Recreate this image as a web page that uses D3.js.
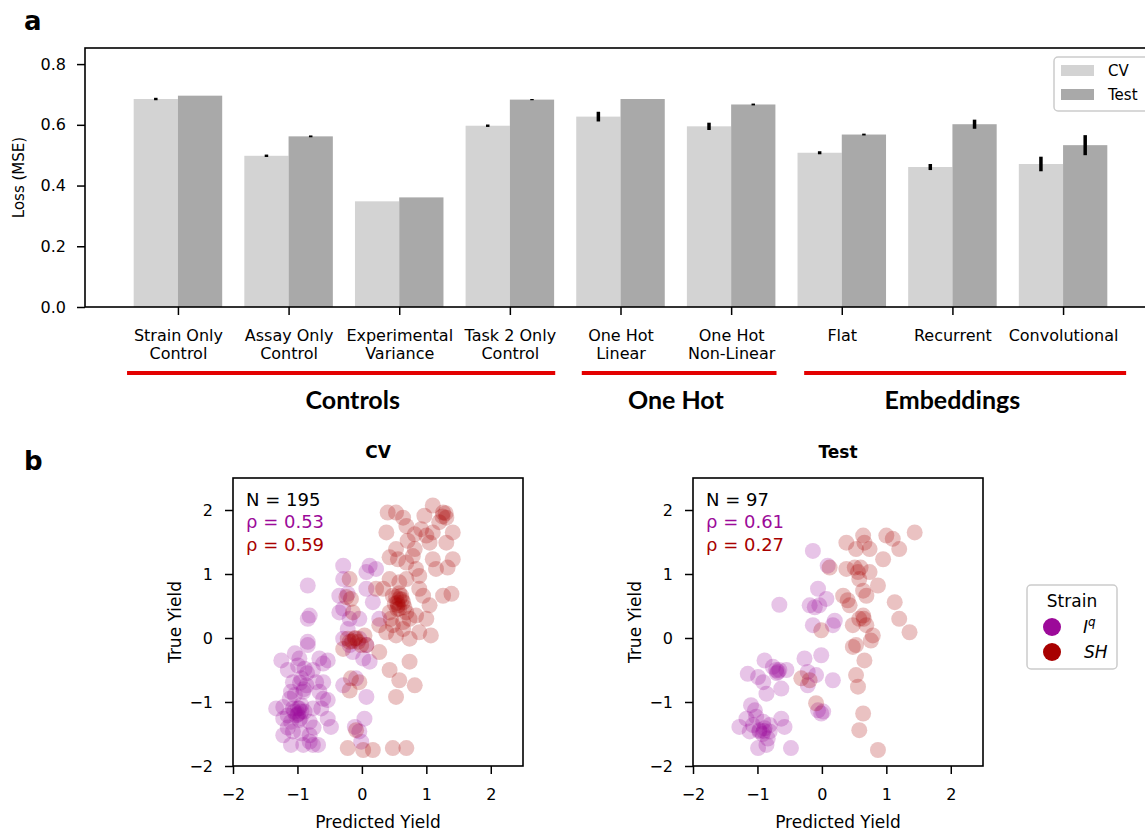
<!DOCTYPE html>
<html>
<head>
<meta charset="utf-8">
<script src="https://cdn.jsdelivr.net/npm/d3@7"></script>
<style>
  body { margin: 0; background: #fff; }
  svg text { font-family: "DejaVu Sans", sans-serif; }
</style>
</head>
<body>
<svg id="fig" width="1145" height="832"></svg>
<script>
/* DATA */
// Panel a: model categories and losses
const methods = ["Strain Only\nControl", "Assay Only\nControl", "Experimental\nVariance", "Task 2 Only\nControl",
    "One Hot\nLinear", "One Hot\nNon-Linear", "Flat", "Recurrent", "Convolutional"];
const cvLoss = [0.685, 0.498, 0.348, 0.597, 0.627, 0.595, 0.508, 0.461, 0.471];
const testLoss = [0.696, 0.562, 0.361, 0.683, 0.685, 0.667, 0.568, 0.602, 0.533];
const cvErr = [0.004, 0.004, 0, 0.004, 0.016, 0.012, 0.005, 0.01, 0.024];
const testErr = [0, 0.003, 0, 0.002, 0, 0.003, 0.003, 0.015, 0.033];
const lossTicks = [0, 0.2, 0.4, 0.6, 0.8];
// Groups of categories (extent in category units)
const groupNames = ["Controls", "One Hot", "Embeddings"];
const groupFrom = [-0.46, 3.65, 5.66];
const groupTo = [3.41, 5.41, 8.57];
const groupLabelAt = [1.58, 4.5, 7.0];

// Panel b: predicted vs true yield [predicted, true]
const cvIq = [[-1.25,-0.35],[-1.04,-0.24],[-0.84,-0.11],[-0.97,-0.32],[-0.66,-0.32],[-0.53,-0.35],[-1.15,-0.50],
    [-0.99,-0.43],[-0.76,-0.50],[-0.89,-0.48],[-1.07,-0.69],[-0.94,-0.63],[-0.71,-0.69],[-0.60,-0.69],[-1.10,-0.84],
    [-0.91,-0.84],[-0.66,-0.84],[-0.53,-0.97],[-1.22,-1.08],[-1.07,-1.10],[-0.97,-1.10],[-0.89,-1.15],[-1.15,-1.21],
    [-0.99,-1.18],[-0.76,-1.10],[-0.63,-1.10],[-1.10,-1.31],[-0.97,-1.28],[-0.81,-1.31],[-0.53,-1.26],[-0.48,-1.39],
    [-1.22,-1.52],[-1.07,-1.46],[-0.94,-1.49],[-0.81,-1.52],[-0.68,-1.67],[-1.10,-1.67],[-0.91,-1.67],[-0.81,-1.62],
    [-1.02,-1.21],[-0.94,-1.05],[-0.99,-1.10],[-0.94,-1.15],[-1.04,-0.89],[-0.86,-0.74],[-1.33,-1.10],[-1.22,-1.26],
    [-0.76,-1.67],[-0.60,-0.95],[-0.84,0.82],[-0.84,0.30],[-0.81,0.35],[-0.84,-0.06],
    [-1.00,-1.20],[-0.95,-1.25],[-1.05,-1.15],[-0.90,-0.80],[-0.85,-0.55],[-1.12,-0.95],[-0.75,-1.40],[-1.15,-1.40],
    [-0.60,-0.40],[-0.96,-0.70],
    [-0.29,1.13],[0.12,1.13],[0.22,1.08],[0.07,1.03],[-0.29,0.92],[-0.35,0.66],[-0.22,0.69],[-0.29,0.46],[0.07,0.77],
    [0.17,0.56],[0.27,0.30],[-0.19,0.30],[-0.04,0.30],[-0.22,0.14],[-0.29,-0.01],[-0.04,-0.01],[0.07,-0.11],
    [0.02,-0.32],[-0.14,-0.22],[0.12,-0.37],[-0.29,-0.74],[-0.09,-0.63],[0.07,-0.92],[0.04,-1.26],[-0.11,-1.39],
    [-0.04,-1.46],[-0.01,-1.62],[-0.19,-0.11],[-0.35,0.40]];
const cvSH = [[0.40,1.96],[0.53,1.96],[0.64,1.88],[1.10,2.07],[1.26,1.96],[1.31,1.88],[1.20,1.81],[0.97,1.91],
    [1.41,1.65],[1.10,1.65],[0.38,1.65],[0.69,1.75],[0.82,1.62],[1.00,1.60],[0.92,1.70],[1.05,1.49],[1.31,1.49],
    [0.71,1.52],[0.82,1.39],[0.53,1.39],[0.43,1.26],[0.56,1.23],[0.69,1.18],[0.84,1.08],[1.10,1.23],[1.15,1.08],
    [1.41,1.23],[1.33,1.10],[0.89,0.97],[1.26,0.66],[1.39,0.69],[0.79,1.28],[0.43,0.92],[0.58,0.87],[0.69,0.92],
    [0.33,0.77],[0.48,0.66],[0.58,0.61],[0.64,0.56],[0.56,0.51],[0.69,0.40],[0.43,0.40],[0.89,0.77],[0.95,0.66],
    [1.05,0.51],[0.84,0.35],[1.00,0.30],[0.64,0.25],[0.48,0.20],[0.38,0.09],[0.53,0.04],[0.74,-0.01],[0.89,0.09],
    [1.07,0.04],[0.27,0.20],[0.22,0.77],[0.53,0.64],[0.61,0.66],[0.51,0.53],[0.66,0.48],[0.58,0.46],[0.45,0.30],
    [0.64,0.14],[0.74,0.30],[-0.19,0.92],[-0.24,0.64],[-0.17,0.61],[-0.14,0.40],[-0.22,-0.01],[-0.11,-0.01],
    [-0.06,-0.06],[0.04,0.04],[0.07,-0.11],[0.27,-0.22],[-0.29,-0.17],[-0.19,-0.06],[-0.01,-0.11],[0.43,-0.50],
    [0.74,-0.37],[0.58,-0.66],[0.82,-0.74],[0.53,-0.92],[-0.17,-0.63],[-0.04,-0.69],[-0.19,-0.82],[-0.09,-1.44],
    [-0.22,-1.72],[0.02,-1.75],[0.17,-1.75],[0.48,-1.72],[0.69,-1.72],
    [0.55,0.55],[0.62,0.60],[0.58,0.70],[1.25,1.90],[1.30,1.95],[-0.15,-0.05],[-0.10,0.00],[0.55,0.45]];
const testIq = [[-0.14,1.36],[0.09,1.13],[-0.06,0.77],[0.07,0.61],[-0.19,0.51],[-0.11,0.48],[-0.04,0.51],[-0.66,0.52],
    [-0.14,0.20],[0.17,0.20],[0.20,0.27],[-0.27,-0.32],[-0.01,-0.27],[-0.22,-0.53],[-0.09,-0.58],[0.17,-0.66],
    [-0.22,-0.74],[-0.06,-1.13],[0.02,-1.15],[-0.01,-1.18],[-0.89,-0.35],[-0.76,-0.45],[-0.66,-0.50],[-0.68,-0.53],
    [-0.55,-0.50],[-1.15,-0.56],[-0.99,-0.61],[-0.91,-0.69],[-0.63,-0.79],[-0.86,-0.87],[-1.10,-1.05],[-1.04,-1.13],
    [-1.17,-1.26],[-1.02,-1.23],[-1.07,-1.36],[-0.91,-1.31],[-0.81,-1.36],[-0.63,-1.26],[-0.58,-1.39],[-1.28,-1.39],
    [-1.12,-1.46],[-0.97,-1.46],[-0.81,-1.46],[-0.84,-1.57],[-0.99,-1.72],[-0.86,-1.67],[-0.48,-1.72],[-0.97,-1.44],
    [-0.71,-0.50],[-0.89,-1.41],[-0.90,-1.45],[-0.92,-1.50],[-0.70,-0.55]];
const testSH = [[0.38,1.49],[0.64,1.60],[0.66,1.49],[1.00,1.60],[1.10,1.55],[1.20,1.39],[1.44,1.65],[0.53,1.39],
    [0.74,1.39],[0.95,1.23],[0.12,1.10],[0.38,1.08],[0.51,1.10],[0.56,1.03],[0.74,1.03],[0.58,0.92],[0.87,0.82],
    [0.64,0.74],[0.33,0.66],[0.40,0.59],[0.43,0.51],[0.69,0.66],[1.13,0.56],[1.20,0.30],[1.36,0.09],[0.64,0.35],
    [0.69,0.20],[0.48,0.20],[0.58,0.30],[0.79,0.04],[0.76,-0.04],[0.48,-0.14],[0.66,-0.35],[0.53,-0.58],
    [0.56,-0.76],[-0.01,0.12],[-0.32,-0.63],[-0.19,-0.66],[-0.09,-1.02],[0.64,-1.18],[0.58,-1.44],[0.87,-1.75],
    [0.53,-0.11],[0.60,1.10],[0.65,0.30]];
const yieldTicks = [-2, -1, 0, 1, 2];
const panelsB = [
    {title: "CV", n: 195, rhoIq: 0.53, rhoSH: 0.59, iq: cvIq, sh: cvSH},
    {title: "Test", n: 97, rhoIq: 0.61, rhoSH: 0.27, iq: testIq, sh: testSH}
];

/* STYLE */
const barCV = "#d3d3d3";
const barTest = "#a9a9a9";
const purple = "#9c0a99";
const red = "#a80000";
const groupRed = "#e30000";
const svg = d3.select("#fig");

// Common axis styling
function styleAxis(g, fs) {
    g.attr("font-family", "DejaVu Sans").attr("font-size", fs);
    g.select(".domain").remove();
    g.selectAll(".tick line").attr("stroke", "#000").attr("stroke-width", 1.5);
    g.selectAll(".tick text").attr("fill", "#000");
}

/* PANEL A */
const xa = d3.scaleLinear().domain([-0.84, methods.length - 1 + 0.84]).range([85, 1156]);
const ya = d3.scaleLinear().domain([0, 0.853]).range([307, 48]);
const bw = xa(0.4) - xa(0);
const series = [
    {name: "CV", vals: cvLoss, err: cvErr, off: -0.2, color: barCV},
    {name: "Test", vals: testLoss, err: testErr, off: 0.2, color: barTest}
];

series.forEach(s => {
    svg.append("g").selectAll("rect")
        .data(s.vals)
        .join("rect")
        .attr("x", (d, i) => xa(i + s.off) - bw / 2)
        .attr("y", d => ya(d))
        .attr("width", bw)
        .attr("height", d => ya(0) - ya(d))
        .attr("fill", s.color);
});
// Error bars
series.forEach(s => {
    svg.append("g").selectAll("line")
        .data(s.vals.map((v, i) => ({v: v, e: s.err[i], i: i})).filter(d => d.e > 0))
        .join("line")
        .attr("x1", d => xa(d.i + s.off))
        .attr("x2", d => xa(d.i + s.off))
        .attr("y1", d => ya(d.v - d.e))
        .attr("y2", d => ya(d.v + d.e))
        .attr("stroke", "#000")
        .attr("stroke-width", 3.5);
});

// Axes
const axA = svg.append("g")
    .attr("transform", `translate(0, ${ya(0)})`)
    .call(d3.axisBottom(xa).tickValues(d3.range(methods.length)).tickSize(8).tickPadding(15));
styleAxis(axA, 16);
axA.selectAll(".tick text").each(function (i) {
    const t = d3.select(this);
    t.text(null).attr("y", 34).attr("dy", null);
    methods[i].split("\n").forEach((l, k) => {
        t.append("tspan").attr("x", 0).attr("dy", k ? 18 : 0).text(l);
    });
});
const ayA = svg.append("g")
    .attr("transform", `translate(${xa.range()[0]}, 0)`)
    .call(d3.axisLeft(ya).tickValues(lossTicks).tickFormat(d3.format(".1f")).tickSize(8).tickPadding(11));
styleAxis(ayA, 16);
svg.append("rect")
    .attr("x", xa.range()[0]).attr("y", ya.range()[1])
    .attr("width", xa.range()[1] - xa.range()[0])
    .attr("height", ya.range()[0] - ya.range()[1])
    .attr("fill", "none").attr("stroke", "#000").attr("stroke-width", 1.6);
svg.append("text")
    .attr("transform", `translate(24, ${(ya.range()[0] + ya.range()[1]) / 2}) rotate(-90)`)
    .attr("text-anchor", "middle").attr("font-size", 15)
    .text("Loss (MSE)");

// Legend
const legA = svg.append("g").attr("transform", "translate(1054, 57)");
legA.append("rect").attr("width", 100).attr("height", 54).attr("rx", 4)
    .attr("fill", "#fff").attr("fill-opacity", 0.8).attr("stroke", "#ccc").attr("stroke-width", 1.5);
series.forEach((s, k) => {
    legA.append("rect").attr("x", 7).attr("y", 8 + k * 24).attr("width", 33).attr("height", 11).attr("fill", s.color);
    legA.append("text").attr("x", 54).attr("y", 19 + k * 24).attr("font-size", 15).text(s.name);
});

// Group brackets
groupNames.forEach((g, k) => {
    svg.append("line")
        .attr("x1", xa(groupFrom[k])).attr("x2", xa(groupTo[k]))
        .attr("y1", 373).attr("y2", 373)
        .attr("stroke", groupRed).attr("stroke-width", 4);
    svg.append("text")
        .attr("x", xa(groupLabelAt[k])).attr("y", 409)
        .attr("text-anchor", "middle")
        .style("font-family", "Lato")
        .attr("font-weight", "bold").attr("font-size", 25)
        .text(g);
});

/* PANEL B */
const bLeft = [233, 693];
panelsB.forEach((p, k) => {
    const x = d3.scaleLinear().domain([-2, 2.5]).range([bLeft[k], bLeft[k] + 290]);
    const y = d3.scaleLinear().domain([-2, 2.5]).range([766, 478]);
    const g = svg.append("g");
    [[p.iq, purple], [p.sh, red]].forEach(([pts, c]) => {
        g.append("g").selectAll("circle")
            .data(pts)
            .join("circle")
            .attr("cx", d => x(d[0]))
            .attr("cy", d => y(d[1]))
            .attr("r", 8)
            .attr("fill", c)
            .attr("fill-opacity", 0.24);
    });
    const ax = g.append("g").attr("transform", `translate(0, ${y.range()[0]})`)
        .call(d3.axisBottom(x).tickValues(yieldTicks).tickFormat(d3.format("d")).tickSize(8).tickPadding(15));
    styleAxis(ax, 16);
    const ay = g.append("g").attr("transform", `translate(${x.range()[0]}, 0)`)
        .call(d3.axisLeft(y).tickValues(yieldTicks).tickFormat(d3.format("d")).tickSize(8).tickPadding(12));
    styleAxis(ay, 16);
    g.append("rect")
        .attr("x", x.range()[0]).attr("y", y.range()[1])
        .attr("width", x.range()[1] - x.range()[0])
        .attr("height", y.range()[0] - y.range()[1])
        .attr("fill", "none").attr("stroke", "#000").attr("stroke-width", 1.6);
    const cx = (x.range()[0] + x.range()[1]) / 2;
    g.append("text").attr("x", cx).attr("y", 458).attr("text-anchor", "middle")
        .attr("font-weight", "bold").attr("font-size", 17).text(p.title);
    g.append("text").attr("x", cx).attr("y", 828).attr("text-anchor", "middle")
        .attr("font-size", 17).text("Predicted Yield");
    g.append("text")
        .attr("transform", `translate(${x.range()[0] - 52}, ${(y.range()[0] + y.range()[1]) / 2}) rotate(-90)`)
        .attr("text-anchor", "middle").attr("font-size", 17).text("True Yield");
    // Stats
    const tx = x.range()[0] + 13;
    g.append("text").attr("x", tx).attr("y", 506).attr("font-size", 18).attr("fill", "#000").text(`N = ${p.n}`);
    g.append("text").attr("x", tx).attr("y", 528).attr("font-size", 18).attr("fill", purple).text(`ρ = ${p.rhoIq.toFixed(2)}`);
    g.append("text").attr("x", tx).attr("y", 551).attr("font-size", 18).attr("fill", red).text(`ρ = ${p.rhoSH.toFixed(2)}`);
});

// Strain legend
const legB = svg.append("g").attr("transform", "translate(1027, 585)");
legB.append("rect").attr("width", 90).attr("height", 84).attr("rx", 4)
    .attr("fill", "#fff").attr("stroke", "#ccc").attr("stroke-width", 1.5);
legB.append("text").attr("x", 45).attr("y", 22).attr("text-anchor", "middle").attr("font-size", 17).text("Strain");
legB.append("circle").attr("cx", 25).attr("cy", 42).attr("r", 9).attr("fill", purple);
legB.append("circle").attr("cx", 25).attr("cy", 67).attr("r", 9).attr("fill", red);
const lq = legB.append("text").attr("x", 56).attr("y", 48).attr("font-size", 17).attr("font-style", "italic");
lq.append("tspan").text("I");
lq.append("tspan").attr("dy", -7).attr("font-size", 12).text("q");
legB.append("text").attr("x", 57).attr("y", 73).attr("font-size", 17).attr("font-style", "italic").text("SH");

// Panel letters
svg.append("text").attr("x", 24).attr("y", 30).attr("font-weight", "bold").attr("font-size", 26).text("a");
svg.append("text").attr("x", 24).attr("y", 470).attr("font-weight", "bold").attr("font-size", 26).text("b");
</script>
</body>
</html>
